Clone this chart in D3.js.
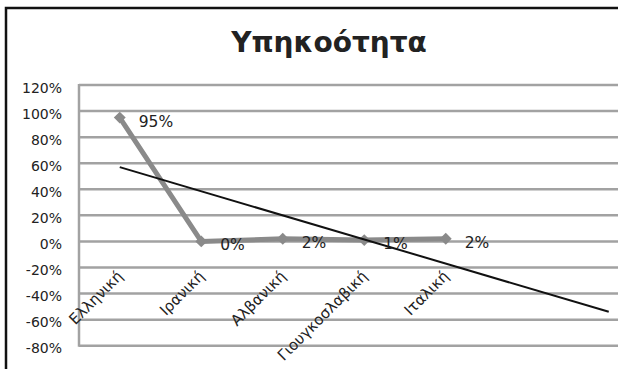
<!DOCTYPE html>
<html>
<head>
<meta charset="utf-8">
<script src="https://cdn.jsdelivr.net/npm/d3@7"></script>
<style>
  html, body { margin: 0; padding: 0; background: #fff; }
  svg { display: block; }
  text { font-family: "DejaVu Sans", "Open Sans", sans-serif; fill: #222; }
</style>
</head>
<body>
<svg id="chart" width="618" height="369"></svg>
<script>
// Nationality shares (%) by category
const categories = ["Ελληνική", "Ιρανική", "Αλβανική", "Γιουγκοσλαβική", "Ιταλική"];
const values = [95, 0, 2, 1, 2];
const yTicks = [120, 100, 80, 60, 40, 20, 0, -20, -40, -60, -80];
const title = "Υπηκοότητα";
const forecastForward = 2; // trend line extends two periods past the data

const svg = d3.select("#chart");
const W = 618, H = 369;

// outer chart frame (runs off the right and bottom edges)
svg.append("rect")
  .attr("x", 6).attr("y", 8)
  .attr("width", W + 40).attr("height", H + 40)
  .attr("fill", "#fff").attr("stroke", "#111").attr("stroke-width", 2.5);

// title
svg.append("text")
  .attr("x", 329).attr("y", 52)
  .attr("text-anchor", "middle")
  .attr("font-family", '"Open Sans", sans-serif')
  .attr("font-size", 28).attr("font-weight", "bold")
  .text(title);

const plotLeft = 79, step = 81.5;
const nSlots = categories.length + forecastForward;
const x = d3.scaleLinear().domain([0.5, nSlots + 0.5]).range([plotLeft, plotLeft + nSlots * step]);
const y = d3.scaleLinear().domain([-80, 120]).range([345.7, 85]);

// horizontal gridlines
svg.append("g").selectAll("line").data(yTicks).join("line")
  .attr("x1", plotLeft).attr("x2", W + 10)
  .attr("y1", d => y(d)).attr("y2", d => y(d))
  .attr("stroke", "#a2a2a2").attr("stroke-width", 2.5);

// value axis line
svg.append("line")
  .attr("x1", plotLeft).attr("x2", plotLeft)
  .attr("y1", y(120) - 1).attr("y2", y(-80) + 1)
  .attr("stroke", "#a2a2a2").attr("stroke-width", 2.5);

// value axis labels
const yAxis = d3.axisLeft(y).tickValues(yTicks).tickSize(0).tickPadding(0)
  .tickFormat(d => d + "%");
const ya = svg.append("g").attr("transform", `translate(${plotLeft - 17},0)`).call(yAxis);
ya.select(".domain").remove();
ya.selectAll("text")
  .attr("font-size", 14).attr("font-family", '"DejaVu Sans", sans-serif')
  .attr("fill", "#222").attr("dy", 7);

// category labels, rotated
svg.append("g").selectAll("text").data(categories).join("text")
  .attr("transform", (d, i) => `translate(${x(i + 1) + 4},${277}) rotate(-45)`)
  .attr("text-anchor", "end")
  .attr("font-size", 15)
  .text(d => d);

// data line
const pts = values.map((v, i) => [i + 1, v]);
svg.append("path")
  .datum(pts)
  .attr("fill", "none")
  .attr("stroke", "#8a8a8a").attr("stroke-width", 5)
  .attr("stroke-linejoin", "round")
  .attr("d", d3.line().x(d => x(d[0])).y(d => y(d[1])));

// diamond markers
svg.append("g").selectAll("path").data(pts).join("path")
  .attr("transform", d => `translate(${x(d[0])},${y(d[1])})`)
  .attr("d", d3.symbol(d3.symbolDiamond2, 90)())
  .attr("fill", "#8a8a8a");

// linear trend line (least squares over the data points)
const n = pts.length;
const mx = d3.mean(pts, d => d[0]), my = d3.mean(pts, d => d[1]);
const slope = d3.sum(pts, d => (d[0] - mx) * (d[1] - my)) / d3.sum(pts, d => (d[0] - mx) ** 2);
const icpt = my - slope * mx;
const x0 = 1, x1 = n + forecastForward;
svg.append("line")
  .attr("x1", x(x0)).attr("y1", y(icpt + slope * x0))
  .attr("x2", x(x1)).attr("y2", y(icpt + slope * x1))
  .attr("stroke", "#111").attr("stroke-width", 2);

// data labels
svg.append("g").selectAll("text").data(pts).join("text")
  .attr("x", d => x(d[0]) + 19)
  .attr("y", d => y(d[1]) + 9)
  .attr("font-size", 15.5)
  .text(d => d[1] + "%");
</script>
</body>
</html>
